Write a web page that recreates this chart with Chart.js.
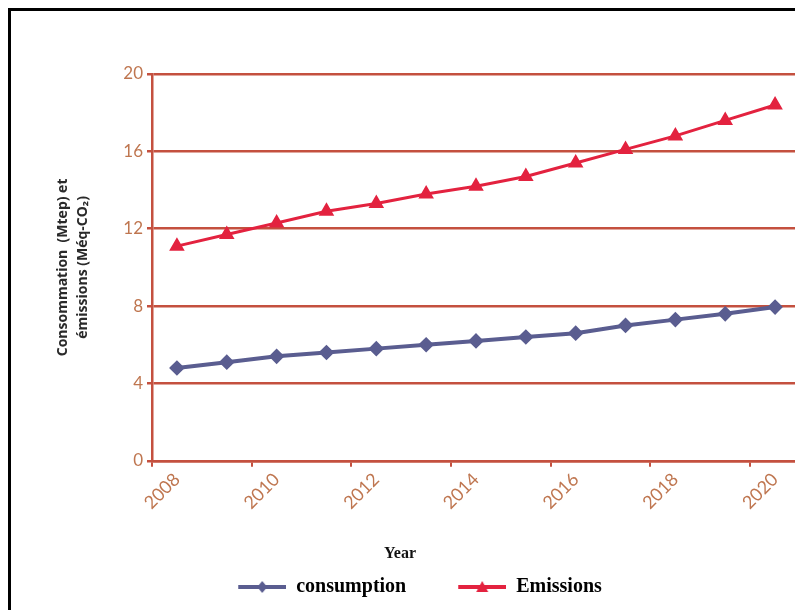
<!DOCTYPE html>
<html>
<head>
<meta charset="utf-8">
<script src="https://cdn.jsdelivr.net/npm/chart.js@4/dist/chart.umd.min.js"></script>
<style>
  html, body { margin: 0; padding: 0; background: #fff; overflow: hidden; }
  #frame {
    position: absolute; left: 8px; top: 8px; width: 800px; height: 610px;
    border-left: 3px solid #000; border-top: 3px solid #000;
  }
  #box { position: absolute; left: 0; top: 0; width: 810px; height: 610px; }
</style>
</head>
<body>
<div id="frame"></div>
<div id="box"><canvas id="myChart"></canvas></div>
<script>
// values
let years = ["2008", "2009", "2010", "2011", "2012", "2013", "2014", "2015", "2016", "2017", "2018", "2019", "2020"];
let consumption = [4.8, 5.1, 5.4, 5.6, 5.8, 6.0, 6.2, 6.4, 6.6, 7.0, 7.3, 7.6, 7.95];
let emissions = [11.1, 11.7, 12.3, 12.9, 13.3, 13.8, 14.2, 14.7, 15.4, 16.1, 16.8, 17.6, 18.4];
let yTicks = [0, 4, 8, 12, 16, 20];

let gridColor = "#c4503f";
let tickColor = "#bf7650";
let blue = "#5a5d90";
let red = "#e3223f";

// small line+marker pictures for the legend (left part left empty as spacing)
function legendIcon(color, style) {
	let c = document.createElement("canvas");
	c.width = 88;
	c.height = 16;
	let g = c.getContext("2d");
	g.strokeStyle = color;
	g.fillStyle = color;
	g.lineWidth = 4;
	g.beginPath();
	g.moveTo(40, 8);
	g.lineTo(88, 8);
	g.stroke();
	g.beginPath();
	if (style == "diamond") {
		g.moveTo(64, 2); g.lineTo(69, 8); g.lineTo(64, 14); g.lineTo(59, 8);
	} else {
		g.moveTo(64, 2); g.lineTo(70, 13); g.lineTo(58, 13);
	}
	g.closePath();
	g.fill();
	return c;
}

var ctx = document.getElementById("myChart");
var myChart = new Chart(ctx, {
	type: "line",
	data: {
		labels: years,
		datasets: [
			{
				label: "consumption",
				data: consumption,
				borderColor: blue,
				backgroundColor: blue,
				borderWidth: 4,
				pointStyle: "rectRot",
				pointRadius: 5,
				fill: false,
				tension: 0,
			},
			{
				label: "Emissions",
				data: emissions,
				borderColor: red,
				backgroundColor: red,
				borderWidth: 3,
				pointStyle: "triangle",
				pointRadius: 6,
				fill: false,
				tension: 0,
			},
		],
	},
	options: {
		responsive: true,
		maintainAspectRatio: false,
		animation: false,
		layout: { padding: { left: 0, right: 10, top: 74, bottom: 3 } },
		scales: {
			x: {
				offset: true,
				grid: {
					offset: true,
					drawOnChartArea: false,
					drawTicks: true,
					tickLength: 6,
					lineWidth: 2,
					// tick mark only every second year, like the labels
					tickColor: (c) => (c.index % 2 == 0 ? gridColor : "rgba(0,0,0,0)"),
				},
				border: { color: gridColor, width: 2.5 },
				ticks: {
					autoSkip: false,
					minRotation: 45,
					maxRotation: 45,
					padding: 2,
					color: tickColor,
					font: { family: "Lato", size: 18 },
					callback: function (v, i) {
						return i % 2 == 0 ? this.getLabelForValue(v) : "";
					},
				},
				afterFit: (s) => { s.height = 77; },
			},
			y: {
				min: 0,
				max: 20,
				afterBuildTicks: (s) => { s.ticks = yTicks.map((v) => ({ value: v })); },
				grid: { color: gridColor, lineWidth: 2.5, tickLength: 5, tickColor: gridColor },
				border: { color: gridColor, width: 2.5 },
				ticks: { padding: 4, color: tickColor, font: { family: "Lato", size: 17 } },
				title: {
					display: true,
					text: ["Consommation  (Mtep) et", "émissions (Méq-CO₂)"],
					color: "#2a2a2a",
					font: { family: "Open Sans", size: 14, weight: "bold", lineHeight: 1.43 },
					padding: { top: 53, bottom: 28 },
				},
				afterFit: (s) => { s.width = 152; },
			},
		},
		plugins: {
			title: {
				display: true,
				text: "Year",
				position: "bottom",
				weight: 500,
				color: "#111",
				font: { family: "Liberation Serif", size: 16, weight: "bold" },
				padding: { top: 6, bottom: 2 },
			},
			legend: {
				position: "bottom",
				labels: {
					usePointStyle: true,
					pointStyleWidth: 88,
					padding: 12,
					color: "#111",
					font: { family: "Liberation Serif", size: 20, weight: "bold" },
					generateLabels: (chart) => [
						{ text: "consumption", pointStyle: legendIcon(blue, "diamond"), fillStyle: blue, strokeStyle: blue, lineWidth: 0, datasetIndex: 0 },
						{ text: "Emissions", pointStyle: legendIcon(red, "triangle"), fillStyle: red, strokeStyle: red, lineWidth: 0, datasetIndex: 1 },
					],
				},
			},
			tooltip: { enabled: false },
		},
	},
});
</script>
</body>
</html>
